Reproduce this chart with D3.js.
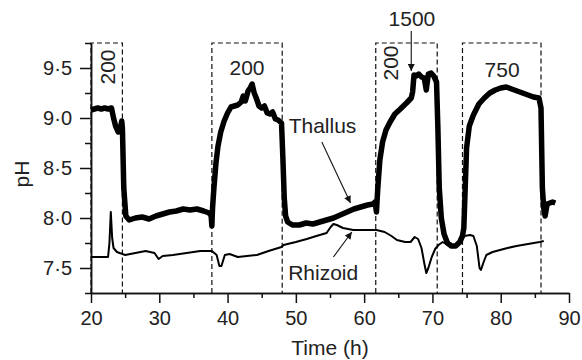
<!DOCTYPE html>
<html>
<head>
<meta charset="utf-8">
<script src="https://cdn.jsdelivr.net/npm/d3@7"></script>
<style>
  body { margin: 0; background: #fff; }
  svg text { font-family: "Liberation Sans", Arial, Helvetica, sans-serif; fill: #222; }
  .axis path, .axis line { stroke: #111; stroke-width: 1.5; }
  .axis text { font-size: 20px; fill: #222; }
</style>
</head>
<body>
<div id="chart"></div>
<script>
// Thallus pH (thick line)
const thallusTime = [20, 20.5, 21, 21.5, 22, 22.5, 23, 23.3, 23.6, 24, 24.3, 24.5, 24.6, 24.8, 25.1, 25.6,
  26.5, 27.5, 28.5, 29.5, 30.5, 31.5, 32.5, 33.5, 34.5, 35.5, 36.5, 37.3, 37.6, 37.7, 37.8, 38, 38.3,
  38.6, 39, 39.5, 40, 40.5, 41, 41.5, 42, 42.3, 42.6, 43, 43.3, 43.6, 43.9, 44.2, 44.6, 45, 45.4, 45.8,
  46.2, 46.6, 47, 47.4, 47.9, 48.1, 48.3, 48.5, 48.8, 49.5, 50.5, 51.5, 52.5, 53.5, 54.5, 55.5, 56.5,
  57.5, 58.5, 59.5, 60.5, 61.3, 61.6, 61.8, 62, 62.3, 62.7, 63.2, 63.8, 64.5, 65.3, 66.2, 66.9, 67.1,
  67.3, 67.6, 68, 68.4, 68.8, 69.1, 69.4, 69.8, 70.2, 70.6, 70.8, 71, 71.3, 71.7, 72.2, 72.8, 73.4, 74,
  74.4, 74.6, 74.8, 75, 75.4, 76, 76.8, 77.6, 78.4, 79.2, 80, 80.8, 81.6, 82.4, 83.2, 84, 84.8, 85.6,
  85.9, 86.1, 86.3, 86.5, 86.8, 87.2, 87.6, 88];
const thallusPH = [9.08, 9.09, 9.1, 9.09, 9.1, 9.09, 9.1, 9.0, 8.92, 8.86, 8.9, 8.97, 8.9, 8.3, 8.02, 7.98,
  8.0, 8.01, 7.99, 8.02, 8.04, 8.06, 8.07, 8.09, 8.08, 8.09, 8.07, 8.05, 8.02, 7.92, 8.1, 8.3, 8.55,
  8.72, 8.86, 8.97, 9.05, 9.11, 9.12, 9.13, 9.16, 9.22, 9.17, 9.27, 9.3, 9.34, 9.25, 9.2, 9.12, 9.1, 9.12, 9.05,
  9.04, 9.06, 8.99, 8.98, 8.95, 8.6, 8.2, 8.02, 7.96, 7.93, 7.93, 7.95, 7.94, 7.96, 7.98, 8.0, 8.03,
  8.06, 8.09, 8.11, 8.13, 8.14, 8.16, 8.06, 8.3, 8.58, 8.76, 8.88, 8.96, 9.04, 9.09, 9.15, 9.2, 9.26,
  9.43, 9.42, 9.44, 9.41, 9.4, 9.28, 9.44, 9.45, 9.42, 9.36, 8.9, 8.3, 8.0, 7.84, 7.75, 7.72, 7.72, 7.76,
  7.82, 7.9, 8.3, 8.7, 8.92, 9.03, 9.14, 9.2, 9.25, 9.28, 9.3, 9.31, 9.29, 9.27, 9.25, 9.23, 9.21, 9.2,
  9.1, 8.3, 8.1, 8.02, 8.14, 8.15, 8.16, 8.15];

// Rhizoid pH (thin line)
const rhizoidTime = [20, 22.5, 22.7, 22.9, 23.1, 23.3, 23.8, 25, 26.5, 28, 29.3, 29.9, 30.5, 32, 34, 36,
  37.7, 38.4, 38.8, 39.1, 39.6, 40.3, 41.5, 44.3, 46, 47.9, 48.2, 50, 51.6, 53, 54.5, 55.1, 55.5, 56,
  56.9, 58.4, 60, 61.8, 63, 64, 64.8, 66, 66.8, 67.4, 67.9, 68.4, 68.8, 69.1, 69.4, 69.9, 70.4, 70.9,
  71.5, 72, 72.6, 73.5, 74.2, 74.7, 75.5, 76, 76.5, 76.9, 77.1, 77.5, 77.9, 78.8, 79.9, 81, 82.3, 84,
  85.7, 86.3];
const rhizoidPH = [7.61, 7.61, 7.75, 8.06, 7.8, 7.7, 7.66, 7.63, 7.65, 7.67, 7.65, 7.59, 7.62, 7.63, 7.65, 7.67,
  7.67, 7.63, 7.52, 7.52, 7.63, 7.64, 7.61, 7.63, 7.67, 7.71, 7.73, 7.76, 7.79, 7.82, 7.85, 7.91, 7.94, 7.93,
  7.9, 7.88, 7.88, 7.88, 7.86, 7.82, 7.78, 7.76, 7.76, 7.81, 7.79, 7.7, 7.55, 7.45, 7.5, 7.61, 7.69, 7.73,
  7.76, 7.74, 7.71, 7.73, 7.78, 7.82, 7.83, 7.82, 7.72, 7.5, 7.48, 7.56, 7.63, 7.66, 7.68, 7.7, 7.72, 7.74,
  7.76, 7.77];

// Light periods (dashed boxes) and their photon flux labels
const boxStart = [20, 37.7, 61.7, 74.4];
const boxEnd = [24.6, 48.0, 70.7, 85.9];
const boxLabel = ['200', '200', '200', '750'];

const xTicks = [20, 30, 40, 50, 60, 70, 80, 90];
const xMinor = [25, 35, 45, 55, 65, 75, 85];
const yTicks = [7.5, 8.0, 8.5, 9.0, 9.5];
const yMinor = [7.25, 7.75, 8.25, 8.75, 9.25, 9.75];

const width = 582, height = 360;
const margin = {top: 43, right: 13, bottom: 67, left: 91};

const svg = d3.select('#chart').append('svg')
    .attr('width', width)
    .attr('height', height);

const x = d3.scaleLinear().domain([20, 90]).range([margin.left, width - margin.right]);
const y = d3.scaleLinear().domain([7.25, 9.75]).range([height - margin.bottom, margin.top]);

const fmt = d => d.toFixed(1).replace('.', '\u00b7');

// arrowhead marker
svg.append('defs').append('marker')
    .attr('id', 'arrow')
    .attr('viewBox', '0 0 10 10')
    .attr('refX', 10).attr('refY', 5)
    .attr('markerUnits', 'userSpaceOnUse')
    .attr('markerWidth', 12).attr('markerHeight', 7)
    .attr('orient', 'auto')
  .append('path')
    .attr('d', 'M0,0L10,5L0,10Z')
    .attr('fill', '#111');

// axes
svg.append('g')
    .attr('class', 'axis')
    .attr('transform', `translate(0,${y.range()[0]})`)
    .call(d3.axisBottom(x).tickValues(xTicks).tickSize(10).tickSizeOuter(0).tickPadding(8).tickFormat(d3.format('d')));
svg.append('g')
    .attr('class', 'axis')
    .attr('transform', `translate(0,${y.range()[0]})`)
    .call(d3.axisBottom(x).tickValues(xMinor).tickSize(5).tickSizeOuter(0).tickFormat(''));

svg.append('g')
    .attr('class', 'axis')
    .attr('transform', `translate(${x.range()[0]},0)`)
    .call(d3.axisLeft(y).tickValues(yTicks).tickSize(11).tickSizeOuter(0).tickPadding(8).tickFormat(fmt));
svg.append('g')
    .attr('class', 'axis')
    .attr('transform', `translate(${x.range()[0]},0)`)
    .call(d3.axisLeft(y).tickValues(yMinor).tickSize(6).tickSizeOuter(0).tickFormat(''));

// dashed boxes
const boxes = svg.append('g')
    .attr('fill', 'none')
    .attr('stroke', '#111')
    .attr('stroke-width', 1.2)
    .attr('stroke-dasharray', '5,3');
boxStart.forEach((s, i) => {
  const path = d3.path();
  path.moveTo(x(s), y(7.25));
  path.lineTo(x(s), y(9.75));
  path.lineTo(x(boxEnd[i]), y(9.75));
  path.lineTo(x(boxEnd[i]), y(7.25));
  boxes.append('path').attr('d', path.toString());
});

// lines
const line = d3.line()
    .x(d => x(d[0]))
    .y(d => y(d[1]))
    .curve(d3.curveLinear);

svg.append('path')
    .datum(rhizoidTime.map((t, i) => [t, rhizoidPH[i]]))
    .attr('fill', 'none')
    .attr('stroke', '#000')
    .attr('stroke-width', 2)
    .attr('stroke-linejoin', 'round')
    .attr('d', line);

svg.append('path')
    .datum(thallusTime.map((t, i) => [t, thallusPH[i]]))
    .attr('fill', 'none')
    .attr('stroke', '#000')
    .attr('stroke-width', 5.5)
    .attr('stroke-linejoin', 'round')
    .attr('d', line);

// annotations
const lab = svg.append('g').style('font-size', '21px');

lab.append('text')
    .attr('transform', `translate(${x(22.4) + 8},${y(9.51)}) rotate(-90)`)
    .attr('text-anchor', 'middle')
    .text(boxLabel[0]);
lab.append('text')
    .attr('x', x(42.85)).attr('y', 75)
    .attr('text-anchor', 'middle')
    .text(boxLabel[1]);
lab.append('text')
    .attr('transform', `translate(${x(63.9) + 7},${y(9.51) - 4}) rotate(-90)`)
    .attr('text-anchor', 'middle')
    .text(boxLabel[2]);
lab.append('text')
    .attr('x', x(80.2)).attr('y', 77)
    .attr('text-anchor', 'middle')
    .text(boxLabel[3]);

lab.append('text')
    .attr('x', x(67.0)).attr('y', 26)
    .attr('text-anchor', 'middle')
    .text('1500');
svg.append('line')
    .attr('x1', x(66.9)).attr('y1', 31)
    .attr('x2', x(66.9)).attr('y2', y(9.47))
    .attr('stroke', '#111').attr('stroke-width', 1.1)
    .attr('marker-end', 'url(#arrow)');

lab.append('text')
    .attr('x', x(53.9)).attr('y', 133)
    .attr('text-anchor', 'middle')
    .text('Thallus');
svg.append('line')
    .attr('x1', x(53.8)).attr('y1', 142)
    .attr('x2', x(58.0)).attr('y2', y(8.15))
    .attr('stroke', '#111').attr('stroke-width', 1.1)
    .attr('marker-end', 'url(#arrow)');

lab.append('text')
    .attr('x', x(54.0)).attr('y', 280)
    .attr('text-anchor', 'middle')
    .text('Rhizoid');
svg.append('line')
    .attr('x1', x(55.5)).attr('y1', 257)
    .attr('x2', x(58.2)).attr('y2', y(7.86))
    .attr('stroke', '#111').attr('stroke-width', 1.1)
    .attr('marker-end', 'url(#arrow)');

// axis titles
svg.append('text')
    .attr('x', x(55)).attr('y', 355)
    .attr('text-anchor', 'middle')
    .style('font-size', '21px')
    .text('Time (h)');
svg.append('text')
    .attr('transform', `translate(29,${(y.range()[0] + y.range()[1]) / 2 + 6}) rotate(-90)`)
    .attr('text-anchor', 'middle')
    .style('font-size', '21px')
    .text('pH');
</script>
</body>
</html>
